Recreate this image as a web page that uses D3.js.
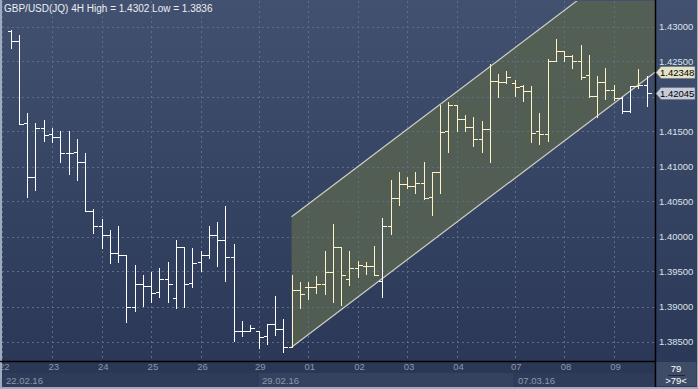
<!DOCTYPE html>
<html>
<head>
<meta charset="utf-8">
<script src="https://cdn.jsdelivr.net/npm/d3@7"></script>
<style>
body { margin: 0; background: #2b3856; }
svg { display: block; font-family: "Liberation Sans", Arial, sans-serif; }
</style>
</head>
<body>
<div id="chart"></div>
<script>
// GBP/USD 4H bars, 22.02.16 - 09.03.16
var opens = [1.42939,1.42786,1.41624,1.40857,1.41553,1.41467,1.41419,1.41196,1.4121,1.41067,
1.40371,1.40153,1.40024,1.39767,1.39739,1.3899,1.39324,1.39296,1.3921,1.39396,
1.39124,1.39847,1.39339,1.39639,1.39733,1.40024,1.39953,1.39704,1.38643,1.38643,
1.38643,1.38576,1.38753,1.38681,1.38419,1.39239,1.39276,1.39276,1.39324,1.3949,
1.39847,1.3939,1.39553,1.39581,1.39576,1.39371,1.40143,1.40553,1.40753,1.40719,
1.40767,1.40561,1.40919,1.415,1.41881,1.41676,1.41571,1.41396,1.41533,1.42224,
1.42204,1.42196,1.42147,1.42081,1.415,1.41467,1.42514,1.42643,1.42581,1.42514,
1.423,1.42004,1.42204,1.42096,1.41981,1.418,1.42157,1.42167];
var highs = [1.4295,1.42881,1.41767,1.41624,1.41667,1.41553,1.415,1.41514,1.41396,1.41196,
1.40386,1.40257,1.40086,1.40157,1.39739,1.39586,1.39443,1.39486,1.39543,1.39629,
1.39953,1.39847,1.39829,1.39786,1.40143,1.40204,1.40429,1.39896,1.38786,1.38739,
1.38657,1.38753,1.39157,1.38824,1.39457,1.39357,1.39357,1.39433,1.398,1.40181,
1.39847,1.398,1.39657,1.39629,1.39871,1.40267,1.40814,1.40919,1.40857,1.40919,
1.41061,1.40919,1.41881,1.41919,1.41881,1.41729,1.41714,1.41657,1.42467,1.42324,
1.42371,1.42239,1.42167,1.42143,1.41767,1.42539,1.42824,1.42643,1.42596,1.42739,
1.42596,1.42286,1.4241,1.42167,1.4199,1.42157,1.42396,1.42286];
var lows = [1.4269,1.4161,1.40561,1.40667,1.41361,1.41347,1.41061,1.4089,1.40804,1.40361,
1.40047,1.39833,1.39619,1.39633,1.38776,1.38933,1.39014,1.39061,1.39133,1.39061,
1.38976,1.3899,1.39276,1.39514,1.3969,1.39576,1.39371,1.38514,1.38576,1.38643,
1.38404,1.38467,1.38586,1.38357,1.38419,1.38976,1.391,1.39196,1.39181,1.39071,
1.39024,1.3931,1.39419,1.39467,1.39443,1.39133,1.40029,1.40443,1.40696,1.40619,
1.40539,1.403,1.40619,1.41204,1.41514,1.415,1.4129,1.41204,1.41061,1.4199,
1.42196,1.42014,1.41933,1.41347,1.41319,1.41371,1.42514,1.425,1.42404,1.42253,
1.42,1.41704,1.41967,1.41957,1.41767,1.41776,1.42124,1.41861];
var closes = [1.42786,1.4161,1.40857,1.41553,1.41457,1.41419,1.41196,1.41196,1.41067,1.40361,
1.40153,1.40024,1.39767,1.39739,1.3899,1.39324,1.39296,1.39196,1.39396,1.39324,
1.39847,1.39324,1.39624,1.39733,1.40024,1.39953,1.39714,1.38643,1.38643,1.3869,
1.38561,1.38753,1.38681,1.38419,1.39239,1.39181,1.39276,1.39324,1.3949,1.39847,
1.39443,1.39553,1.3959,1.39576,1.39453,1.40143,1.40553,1.40753,1.40719,1.40767,
1.40553,1.40919,1.4149,1.41881,1.41676,1.41571,1.41396,1.41533,1.42224,1.42204,
1.42276,1.42129,1.42081,1.41481,1.41467,1.42514,1.42643,1.42581,1.42514,1.42276,
1.42004,1.42204,1.42096,1.41981,1.418,1.42157,1.42167,1.42045];

var dayLabels = ["22","23","24","25","26","29","01","02","03","04","07","08","09"];
var dayStarts = [-1,5,11,17,23,30,36,42,48,54,61,67,73];
var weekLabels = ["22.02.16","29.02.16","07.03.16"];
var weekStarts = [-1,30,61];
var priceTicks = [1.385,1.39,1.395,1.40,1.405,1.41,1.415,1.42,1.425,1.43];

// regression channel: bar index -> lower / upper price
var channelIdx = [34, 78];
var channelLow = [1.38419, 1.42348];
var channelHigh = [1.40282, 1.44211];

var title = "GBP/USD(JQ) 4H High = 1.4302 Low = 1.3836";
var barCount = "79";

var W = 698, H = 389;
var plotL = 2, plotR = 655, plotT = 1, plotB = 361;

var svg = d3.select("#chart").append("svg").attr("width", W).attr("height", H);
var defs = svg.append("defs");
var grad = defs.append("linearGradient").attr("id", "bg").attr("x1", 0).attr("y1", 0).attr("x2", 0).attr("y2", 1);
grad.append("stop").attr("offset", "0%").attr("stop-color", "#425170");
grad.append("stop").attr("offset", "100%").attr("stop-color", "#2b3857");
defs.append("clipPath").attr("id", "plotclip").append("rect")
.attr("x", plotL).attr("y", plotT).attr("width", plotR - plotL).attr("height", plotB - plotT);

// frame + backgrounds
svg.append("rect").attr("width", W).attr("height", H).attr("fill", "#9eabc0");
svg.append("rect").attr("x", 2).attr("y", 0).attr("width", W - 3).attr("height", plotB).attr("fill", "url(#bg)");
svg.append("rect").attr("x", 2).attr("y", plotB).attr("width", W - 3).attr("height", 387 - plotB).attr("fill", "#2b3855");

var x = d3.scaleLinear().domain([-1, 78]).range([2.44, 655]);
var y = d3.scaleLinear().domain([1.385, 1.43]).range([341.5, 26.5]);

var plot = svg.append("g").attr("clip-path", "url(#plotclip)");

// channel fill
var lowAt = function(i) { return channelLow[0] + (channelLow[1] - channelLow[0]) * (i - channelIdx[0]) / (channelIdx[1] - channelIdx[0]); };
var highAt = function(i) { return channelHigh[0] + (channelHigh[1] - channelHigh[0]) * (i - channelIdx[0]) / (channelIdx[1] - channelIdx[0]); };
plot.append("polygon")
.attr("points", [[x(channelIdx[0]), y(channelLow[0])], [x(channelIdx[1]), y(channelLow[1])],
  [x(channelIdx[1]), y(channelHigh[1])], [x(channelIdx[0]), y(channelHigh[0])]].join(" "))
.attr("fill", "#555f52").attr("fill-opacity", 0.92);

// grid
plot.selectAll(".hgrid").data(priceTicks).enter().append("line")
.attr("x1", plotL).attr("x2", plotR)
.attr("y1", function(d) { return Math.round(y(d)) + 0.5; })
.attr("y2", function(d) { return Math.round(y(d)) + 0.5; })
.attr("stroke", "#5d6d8a").attr("stroke-dasharray", "2,3");
plot.selectAll(".vgrid").data(dayStarts).enter().append("line")
.attr("x1", function(d) { return Math.round(x(d)) + 0.5; })
.attr("x2", function(d) { return Math.round(x(d)) + 0.5; })
.attr("y1", plotT).attr("y2", plotB)
.attr("stroke", "#5d6d8a").attr("stroke-dasharray", "2,3");

// channel lines
[channelLow, channelHigh].forEach(function(c) {
  plot.append("line")
  .attr("x1", x(channelIdx[0])).attr("y1", y(c[0]))
  .attr("x2", x(channelIdx[1])).attr("y2", y(c[1]))
  .attr("stroke", "#cfcfc4").attr("stroke-width", 1.2);
});

// OHLC bars
var bars = d3.range(opens.length);
var tol = 0.0002;
function barColor(i) {
  if (i < channelIdx[0]) return "#ffffff";
  var lo = lowAt(i) - tol, hi = highAt(i) + tol;
  var inside = opens[i] >= lo && opens[i] <= hi && closes[i] >= lo && closes[i] <= hi;
  return inside ? "#fff2c4" : "#ffffff";
}
var px = function(i) { return Math.round(x(i)) + 0.5; };
var py = function(v) { return Math.round(y(v)) + 0.5; };
var bar = plot.selectAll(".bar").data(bars).enter().append("g")
.attr("stroke", barColor).attr("shape-rendering", "crispEdges");
bar.append("line")
.attr("x1", px).attr("x2", px)
.attr("y1", function(i) { return py(highs[i]) - 0.5; })
.attr("y2", function(i) { return py(lows[i]) + 0.5; });
bar.append("line")
.attr("x1", function(i) { return px(i) - 4; }).attr("x2", px)
.attr("y1", function(i) { return py(opens[i]); })
.attr("y2", function(i) { return py(opens[i]); });
bar.append("line")
.attr("x1", px).attr("x2", function(i) { return px(i) + 4; })
.attr("y1", function(i) { return py(closes[i]); })
.attr("y2", function(i) { return py(closes[i]); });

// separators
svg.append("line").attr("x1", 0).attr("x2", plotR).attr("y1", plotB + 0.5).attr("y2", plotB + 0.5)
.attr("stroke", "#000").attr("stroke-width", 1.5);
svg.append("line").attr("x1", plotR + 0.5).attr("x2", plotR + 0.5).attr("y1", 0).attr("y2", 387)
.attr("stroke", "#000").attr("stroke-width", 1.5);

// price markers cover the axis labels they sit on
var markers = [channelLow[1], closes[closes.length - 1]];
var visibleTicks = priceTicks.filter(function(t) {
  return markers.every(function(m) { return Math.abs(y(t) - y(m)) > 10; });
});

// y axis on the right
var yAxis = svg.append("g").attr("transform", "translate(" + plotR + ",0)")
.call(d3.axisRight(y).tickValues(visibleTicks).tickSize(0).tickPadding(4).tickFormat(d3.format(".5f")));
yAxis.select(".domain").remove();
yAxis.selectAll("text").attr("fill", "#dde1ea").style("font-size", "9.5px").style("font-family", "Liberation Sans, Arial, sans-serif");

// week boxes + date labels
var bottom = svg.append("g").attr("clip-path", "url(#botclip)");
defs.append("clipPath").attr("id", "botclip").append("rect")
.attr("x", 2).attr("y", plotB + 1).attr("width", plotR - 2).attr("height", 387 - plotB - 1);
bottom.selectAll(".wk").data(weekStarts).enter().append("rect")
.attr("x", function(d) { return x(d); })
.attr("y", 373)
.attr("width", function(d, i) { return (i < weekStarts.length - 1 ? x(weekStarts[i + 1]) : plotR) - x(d) - 1; })
.attr("height", 14)
.attr("fill", function(d, i) { return i % 2 ? "#34425f" : "#2f3c59"; });
bottom.selectAll(".wkl").data(weekStarts).enter().append("text")
.attr("x", function(d) { return x(d) + 3.5; })
.attr("y", 384)
.attr("fill", "#8c97ac").style("font-size", "9.5px")
.text(function(d, i) { return weekLabels[i]; });

var xAxis = bottom.append("g").attr("transform", "translate(0," + plotB + ")")
.call(d3.axisBottom(x).tickValues(dayStarts).tickSize(0).tickPadding(3)
.tickFormat(function(d, i) { return dayLabels[i]; }));
xAxis.select(".domain").remove();
xAxis.selectAll("text").attr("text-anchor", "start").attr("dx", -4).attr("dy", "0.6em")
.attr("fill", "#8c97ac").style("font-size", "9.5px").style("font-family", "Liberation Sans, Arial, sans-serif");

// bar count box
svg.append("rect").attr("x", plotR + 1.5).attr("y", plotB + 1).attr("width", W - plotR - 3).attr("height", 386 - plotB - 1).attr("fill", "#3e4c68");
svg.append("text").attr("x", 676).attr("y", 372).attr("text-anchor", "middle").attr("fill", "#ffffff").style("font-size", "9.5px").text(barCount);
svg.append("line").attr("x1", 668).attr("x2", 685).attr("y1", 375.5).attr("y2", 375.5).attr("stroke", "#1e2638");
svg.append("text").attr("x", 676).attr("y", 384).attr("text-anchor", "middle").attr("fill", "#ffffff").style("font-size", "9.5px").text(">" + barCount + "<");

// price markers
function marker(v, fill) {
  var yc = Math.round(y(v)) + 0.5;
  svg.append("path")
  .attr("d", "M656," + yc + "L661," + (yc - 6) + "L695," + (yc - 6) + "L695," + (yc + 6) + "L661," + (yc + 6) + "Z")
  .attr("fill", fill).attr("stroke", "#6b7080").attr("stroke-width", 0.6);
  svg.append("text").attr("x", 660).attr("y", yc + 3.5).attr("fill", "#000").style("font-size", "9.5px")
  .text(d3.format(".5f")(v));
}
marker(markers[0], "#e4e2c6");
marker(markers[1], "#c5cbd8");

// title
svg.append("text").attr("x", 4).attr("y", 12).attr("fill", "#eceef2").style("font-size", "10px").text(title);
</script>
</body>
</html>
